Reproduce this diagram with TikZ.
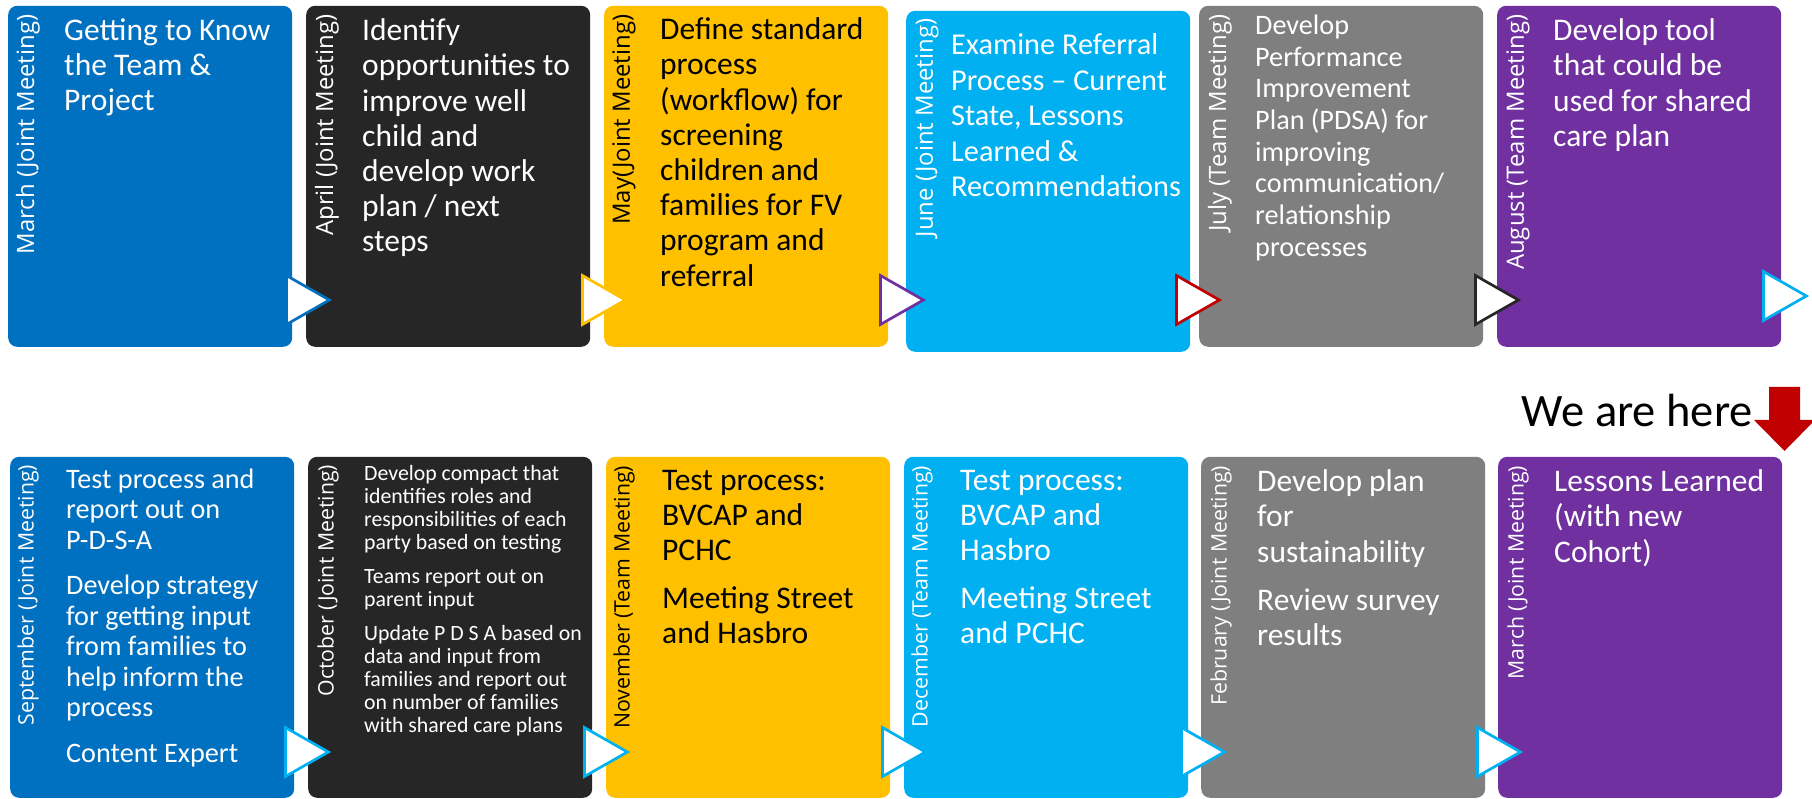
\documentclass[tikz,border=0pt]{standalone}
\usepackage{fontspec}
\setmainfont{Carlito}
\newfontfamily\labelfont{Open Sans}
\usepackage{tikz}
\definecolor{mblue}{HTML}{0070C0}
\definecolor{mblack}{HTML}{262626}
\definecolor{myellow}{HTML}{FFC000}
\definecolor{mcyan}{HTML}{00B0F0}
\definecolor{mgray}{HTML}{7F7F7F}
\definecolor{mpurple}{HTML}{7030A0}
\definecolor{mred}{HTML}{C00000}
\tikzstyle{stepbox}=[rectangle, rounded corners=9pt, anchor=south west, inner sep=0pt, minimum width=284pt, minimum height=341pt]
\tikzstyle{monthlabel}=[rotate=90, anchor=east, inner sep=0pt, text=white, font=\labelfont\fontsize{23.9}{28}\selectfont]
\tikzstyle{latelabel}=[monthlabel, font=\labelfont\fontsize{21.3}{25}\selectfont]
\tikzstyle{bigtext}=[anchor=north west, align=left, inner sep=0pt, text=white, execute at begin node=\strut, font=\fontsize{31.5}{35.2}\selectfont]
\tikzstyle{midtext}=[bigtext, font=\fontsize{28.2}{30.5}\selectfont]
\tikzstyle{smalltext}=[bigtext, font=\fontsize{21.8}{23}\selectfont]
\tikzstyle{nexttip}=[fill=white, line width=2.7pt, line join=miter]

\begin{document}
\begin{tikzpicture}[x=1pt, y=1pt]
\useasboundingbox (0,0) rectangle (1812,798);

\node[stepbox, fill=mblue](b1) at (8,451) {};
\node[stepbox, fill=mblack](b2) at (306,451) {};
\node[stepbox, fill=myellow](b3) at (604,451) {};
\node[stepbox, fill=mcyan](b4) at (906,446) {};
\node[stepbox, fill=mgray](b5) at (1199,451) {};
\node[stepbox, fill=mpurple](b6) at (1497,451) {};
\node[stepbox, fill=mblue](b7) at (10,0) {};
\node[stepbox, fill=mblack](b8) at (308,0) {};
\node[stepbox, fill=myellow](b9) at (606,0) {};
\node[stepbox, fill=mcyan](b10) at (904,0) {};
\node[stepbox, fill=mgray](b11) at (1201,0) {};
\node[stepbox, fill=mpurple](b12) at (1498,0) {};

\node[monthlabel](m1) at ([shift={(20,-9)}]b1.north west) {March (Joint Meeting)};
\node[monthlabel](m2) at ([shift={(21,-9)}]b2.north west) {April (Joint Meeting)};
\node[monthlabel, text=black](m3) at ([shift={(20,-9)}]b3.north west) {May(Joint Meeting)};
\node[monthlabel](m4) at ([shift={(21,-8)}]b4.north west) {June (Joint Meeting)};
\node[monthlabel](m5) at ([shift={(21,-9)}]b5.north west) {July (Team Meeting)};
\node[monthlabel](m6) at ([shift={(21,-9)}]b6.north west) {August (Team Meeting)};
\node[latelabel](m7) at ([shift={(18,-8)}]b7.north west) {September (Joint Meeting)};
\node[latelabel](m8) at ([shift={(20,-8)}]b8.north west) {October (Joint Meeting)};
\node[latelabel, text=black](m9) at ([shift={(18,-9)}]b9.north west) {November (Team Meeting)};
\node[latelabel](m10) at ([shift={(18,-9)}]b10.north west) {December (Team Meeting)};
\node[latelabel](m11) at ([shift={(20,-9)}]b11.north west) {February (Joint Meeting)};
\node[latelabel](m12) at ([shift={(20,-9)}]b12.north west) {March (Joint Meeting)};

\node[bigtext](t1) at ([shift={(56,-13)}]b1.north west) {Getting to Know\\the Team \&\\Project};
\node[bigtext](t2) at ([shift={(56,-13)}]b2.north west) {Identify\\opportunities to\\improve well\\child and\\develop work\\plan / next\\steps};
\node[bigtext, text=black](t3) at ([shift={(56,-12)}]b3.north west) {Define standard\\process\\(workflow) for\\screening\\children and\\families for FV\\program and\\referral};
\node[bigtext, font=\fontsize{30.3}{35.5}\selectfont](t4) at ([shift={(45,-23)}]b4.north west) {Examine Referral\\Process – Current\\State, Lessons\\Learned \&\\Recommendations};
\node[midtext, font=\fontsize{28.2}{31.7}\selectfont](t5) at ([shift={(56,-9)}]b5.north west) {Develop\\Performance\\Improvement\\Plan (PDSA) for\\improving\\communication/\\relationship\\processes};
\node[bigtext](t6) at ([shift={(56,-13)}]b6.north west) {Develop tool\\that could be\\used for shared\\care plan};
\node[midtext](t7) at ([shift={(56,-12)}]b7.north west) {Test process and\\report out on\\P-D-S-A\\[15pt]Develop strategy\\for getting input\\from families to\\help inform the\\process\\[15pt]Content Expert};
\node[smalltext](t8) at ([shift={(56,-9)}]b8.north west) {Develop compact that\\identifies roles and\\responsibilities of each\\party based on testing\\[11pt]Teams report out on\\parent input\\[11pt]Update P D S A based on\\data and input from\\families and report out\\on number of families\\with shared care plans};
\node[bigtext, text=black](t9) at ([shift={(56,-13)}]b9.north west) {Test process:\\BVCAP and\\PCHC\\[13pt]Meeting Street\\and Hasbro};
\node[bigtext](t10) at ([shift={(56,-13)}]b10.north west) {Test process:\\BVCAP and\\Hasbro\\[13pt]Meeting Street\\and PCHC};
\node[bigtext](t11) at ([shift={(56,-13)}]b11.north west) {Develop plan\\for\\sustainability\\[13pt]Review survey\\results};
\node[bigtext](t12) at ([shift={(56,-13)}]b12.north west) {Lessons Learned\\(with new\\Cohort)};

\foreach \b/\c/\dx/\dy in {b1/mblue/-6/47, b2/myellow/-8/47, b3/mpurple/-8/47, b4/mred/-14/52, b5/mblack/-8/47, b6/mcyan/-18/51, b7/mcyan/-9/46, b8/mcyan/-8/46, b9/mcyan/-8/46, b10/mcyan/-7/46, b11/mcyan/-8/46}
  \draw[nexttip, draw=\c] ([shift={(\dx,\dy+24.5)}]\b.south east) -- ([shift={(\dx+43,\dy)}]\b.south east) -- ([shift={(\dx,\dy-24.5)}]\b.south east) -- cycle;

\node[anchor=base east, inner sep=0pt, font=\fontsize{46.5}{50}\selectfont](here) at (1753,371) {We are here};
\coordinate (herearrow) at (1784.5,347);
\fill[mred] ([shift={(-15.5,64)}]herearrow) -- ([shift={(15.5,64)}]herearrow) -- ([shift={(15.5,31)}]herearrow) -- ([shift={(30.5,31)}]herearrow) -- (herearrow) -- ([shift={(-30.5,31)}]herearrow) -- ([shift={(-15.5,31)}]herearrow) -- cycle;

\end{tikzpicture}
\end{document}
